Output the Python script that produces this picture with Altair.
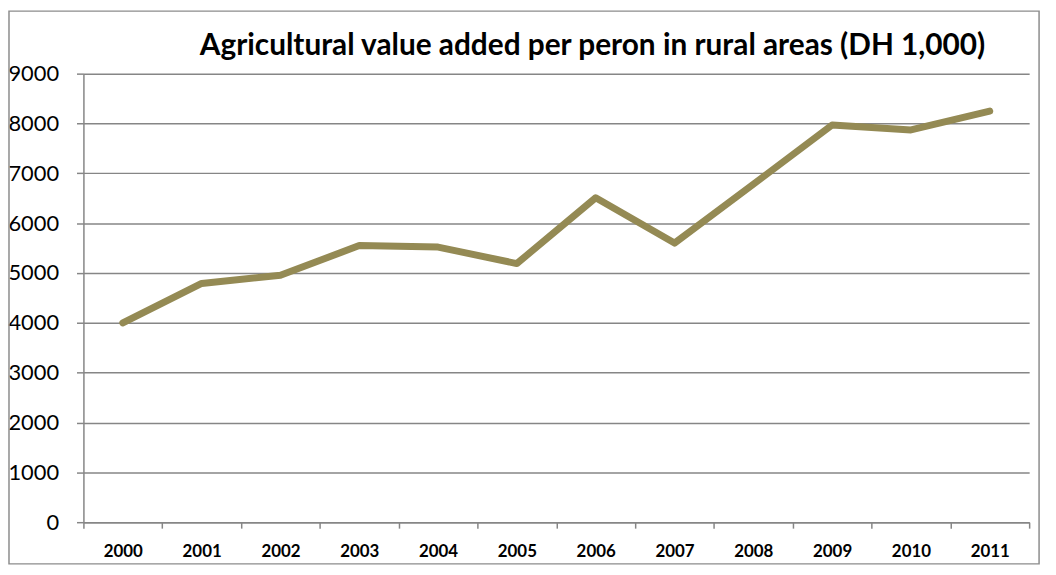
import altair as alt
import pandas as pd

years = ["2000", "2001", "2002", "2003", "2004", "2005",
         "2006", "2007", "2008", "2009", "2010", "2011"]
values = [4000, 4790, 4955, 5550, 5520, 5190, 6510, 5600, 6780, 7970, 7870, 8250]
y_ticks = [0, 1000, 2000, 3000, 4000, 5000, 6000, 7000, 8000, 9000]
title_text = "Agricultural value added per peron in rural areas (DH 1,000)"

df = pd.DataFrame({"year": years, "value": values})
one = pd.DataFrame({"t": [title_text]})

GRAY = "#868686"
FONT = "Lato"

x_enc = alt.X(
    "year:O",
    sort=years,
    scale=alt.Scale(type="band", paddingInner=0, paddingOuter=0),
    axis=alt.Axis(
        title=None, labelAngle=0, labelFont=FONT, labelFontSize=17,
        labelFontWeight="bold", labelColor="#000000", labelPadding=16,
        domainColor=GRAY, domainWidth=1.5, tickColor=GRAY, tickWidth=1.5,
        tickSize=6, tickBand="extent", grid=False,
    ),
)
y_enc = alt.Y(
    "value:Q",
    scale=alt.Scale(domain=[0, 9000], nice=False),
    axis=alt.Axis(
        title=None, values=y_ticks, format="d", labelFont=FONT,
        labelFontSize=22, labelColor="#000000", labelPadding=18,
        domainColor=GRAY, domainWidth=1.5, tickColor=GRAY, tickWidth=1.5,
        tickSize=7, grid=True, gridColor=GRAY, gridWidth=1.5,
    ),
)

line = alt.Chart(df).mark_line(
    color="#948A54", strokeWidth=7, strokeJoin="round", strokeCap="round"
).encode(x=x_enc, y=y_enc)

border = alt.Chart(one).mark_rect(
    fillOpacity=0, stroke="#8c8c8c", strokeWidth=1.5
).encode(
    x=alt.value(-75), x2=alt.value(963), y=alt.value(-63), y2=alt.value(494)
)

title = alt.Chart(one).mark_text(
    font=FONT, fontSize=30, fontWeight="bold", color="#000000",
    align="center", baseline="alphabetic"
).encode(x=alt.value(513), y=alt.value(-19), text="t:N")

chart = alt.layer(border, line, title).properties(
    width=953, height=452,
    autosize=alt.AutoSizeParams(type="none"),
    padding={"left": 76, "top": 64, "right": 19, "bottom": 43},
).configure_view(stroke=None)

chart.save("out.html", embed_options={"renderer": "svg", "actions": False})
